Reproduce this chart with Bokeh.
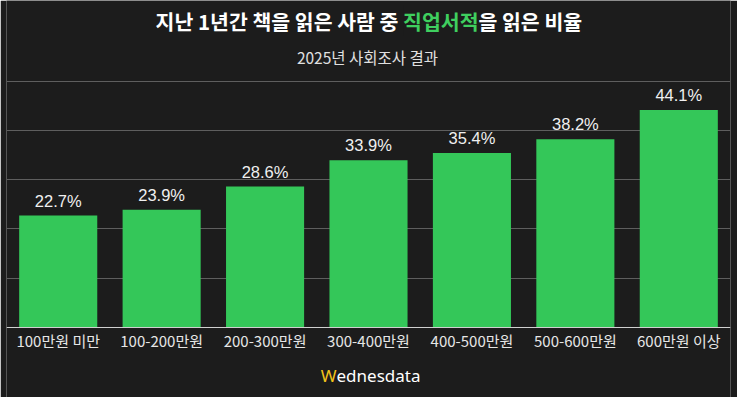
from bokeh.plotting import figure
from bokeh.models import FactorRange, Range1d, FixedTicker, Span, ColumnDataSource
from bokeh.core.properties import value
from bokeh.embed import file_html
from bokeh.resources import INLINE

# ---- data ----
categories = ["100만원 미만", "100-200만원", "200-300만원", "300-400만원",
              "400-500만원", "500-600만원", "600만원 이상"]
rates = [22.7, 23.9, 28.6, 33.9, 35.4, 38.2, 44.1]
rate_labels = [f"{v:.1f}%" for v in rates]
grid_ticks = [10, 20, 30, 40, 50]

title_left = "지난 1년간 책을 읽은 사람 중 "
title_green = "직업서적"
title_right = "을 읽은 비율"
subtitle = "2025년 사회조사 결과"

BG = "#1c1c1c"
GREEN = "#34c759"
W, H = 737, 397
BL, BR = 6, 7
PX_Y = 4.93
Y1 = 327 / PX_Y
Y0 = -(H - 327) / PX_Y
PX_X = (W - BL - BR) / len(categories)


def yd(py):  # pixel from top -> data y
    return Y1 - py / PX_Y


def xd(px):  # pixel from left -> synthetic x
    return (px - BL) / PX_X


p = figure(x_range=FactorRange(*categories, range_padding=0),
           y_range=Range1d(Y0, Y1), width=W, height=H,
           output_backend="svg", toolbar_location=None,
           x_axis_location=None, y_axis_location=None,
           background_fill_color=BG, border_fill_color=BG,
           min_border_left=BL, min_border_right=BR,
           min_border_top=0, min_border_bottom=0, outline_line_color=None)
p.title.visible = False

p.xgrid.visible = False
p.ygrid.ticker = FixedTicker(ticks=grid_ticks)
p.ygrid.grid_line_color = "#5e5e5e"
p.ygrid.grid_line_width = 1

src = ColumnDataSource(dict(cat=categories, rate=rates, lab=rate_labels,
                            laby=[yd(340)] * len(categories)))
p.vbar(x="cat", top="rate", bottom=0, width=0.755, source=src,
       fill_color=GREEN, line_color=None)

p.add_layout(Span(location=0, dimension="width", line_color="#d0d0d0", line_width=1))

p.text(x="cat", y="rate", text="lab", source=src, text_align="center",
       text_baseline="bottom", y_offset=-6, text_color="#f0f0f0",
       text_font=value("Liberation Sans"), text_font_size="16.5px")

p.text(x="cat", y="laby", text="cat", source=src,
       text_align="center", text_baseline="middle", text_color="#e6e6e6",
       text_font=value("Noto Sans CJK KR"), text_font_size="15px")

# title: white text ending with the green word, green word overlaid, rest after
tf = value("Noto Sans CJK KR")
tx = xd(478)
ty = yd(20)
p.text(x=[tx], y=[ty], text=[title_left + title_green], text_align="right",
       text_baseline="middle", text_color="#ffffff", text_font=tf,
       text_font_size="20.5px", text_font_style="bold")
p.text(x=[tx], y=[ty], text=[title_green], text_align="right",
       text_baseline="middle", text_color="#3fcf5f", text_font=tf,
       text_font_size="20.5px", text_font_style="bold",
       background_fill_color=BG)
p.text(x=[tx], y=[ty], text=[title_right], text_align="left",
       text_baseline="middle", text_color="#ffffff", text_font=tf,
       text_font_size="20.5px", text_font_style="bold")

p.text(x=[xd(367)], y=[yd(56)], text=[subtitle], text_align="center",
       text_baseline="middle", text_color="#e0e0e0", text_font=tf,
       text_font_size="15.5px")

# logo
p.text(x=[xd(336)], y=[yd(375)], text=["W"], text_align="right",
       text_baseline="middle", text_color="#f2c31b",
       text_font=value("Noto Sans"), text_font_size="17px")
p.text(x=[xd(336)], y=[yd(375)], text=["ednesdata"], text_align="left",
       text_baseline="middle", text_color="#ffffff",
       text_font=value("Noto Sans"), text_font_size="17px")

open("out.html", "w").write(file_html(p, INLINE))
